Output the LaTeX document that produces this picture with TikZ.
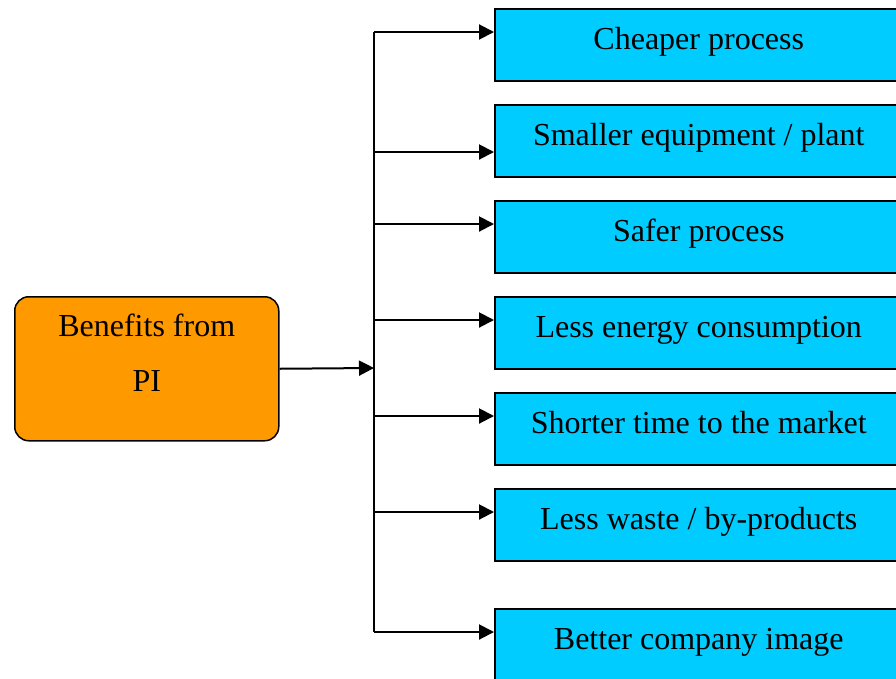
\documentclass[tikz,border=0pt]{standalone}
\usepackage{fontspec}
\setmainfont{Liberation Serif}
\usetikzlibrary{arrows.meta}
\definecolor{boxcyan}{HTML}{00CCFF}
\definecolor{boxorange}{HTML}{FF9900}
\begin{document}
\begin{tikzpicture}[x=1pt,y=-1pt,
  benefit/.style={draw=black, line width=1.5pt, fill=boxcyan, minimum width=408pt,
    minimum height=72pt, inner sep=0pt, anchor=north west, text height=24pt,
    text depth=14pt, font=\fontsize{32}{55}\selectfont},
  source/.style={draw=black, line width=1.5pt, fill=boxorange, minimum width=264pt,
    minimum height=144pt, inner sep=0pt, anchor=north west, rounded corners=14pt,
    align=center, text depth=32pt, font=\fontsize{32}{55}\selectfont},
  trunk/.style={line width=2pt},
  conn/.style={line width=2pt, -{Triangle[length=15pt,width=15pt]}}]
\useasboundingbox (0,0) rectangle (896,678);
\clip (0,0) rectangle (896,678);
\fill[white] (0,0) rectangle (896,678);

\node[source] (pi) at (14,296) {Benefits from\\PI};

\node[benefit] (b1) at (494,8) {Cheaper process};
\node[benefit] (b2) at (494,104) {Smaller equipment / plant};
\node[benefit] (b3) at (494,200) {Safer process};
\node[benefit] (b4) at (494,296) {Less energy consumption};
\node[benefit] (b5) at (494,392) {Shorter time to the market};
\node[benefit] (b6) at (494,488) {Less waste / by-products};
\node[benefit] (b7) at (494,608) {Better company image};

\coordinate (j1) at (374,32);
\coordinate (j2) at (374,152);
\coordinate (j3) at (374,224);
\coordinate (j4) at (374,320);
\coordinate (j5) at (374,416);
\coordinate (j6) at (374,512);
\coordinate (j7) at (374,632);
\coordinate (jm) at (374,368);

\draw[trunk] (j1) -- (j7);
\draw[conn] (pi.east) -- (jm);
\draw[conn] (j1) -- (j1 -| b1.west);
\draw[conn] (j2) -- (j2 -| b2.west);
\draw[conn] (j3) -- (j3 -| b3.west);
\draw[conn] (j4) -- (j4 -| b4.west);
\draw[conn] (j5) -- (j5 -| b5.west);
\draw[conn] (j6) -- (j6 -| b6.west);
\draw[conn] (j7) -- (j7 -| b7.west);
\end{tikzpicture}
\end{document}
